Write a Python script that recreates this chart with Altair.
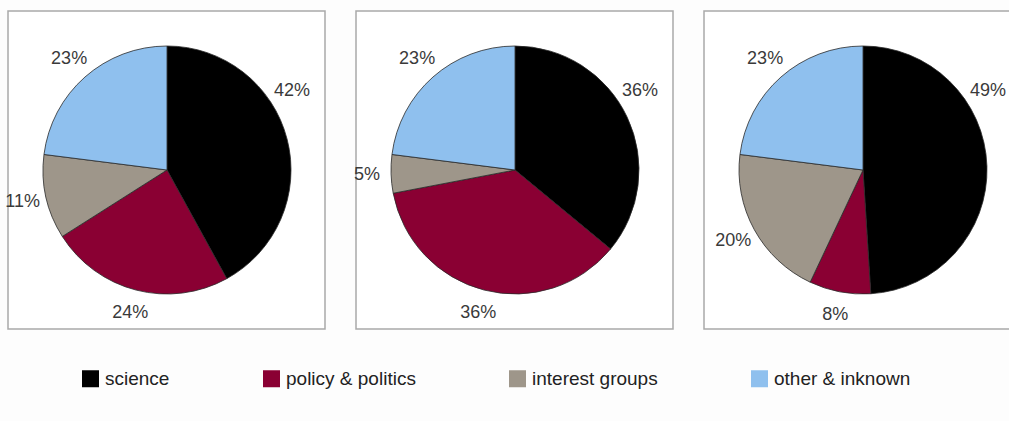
import altair as alt
import pandas as pd

categories = ["science", "policy & politics", "interest groups", "other & inknown"]
colors = ["#000000", "#8a0033", "#9e968a", "#8fc0ee"]
pie1 = [42, 24, 11, 23]
pie2 = [36, 36, 5, 23]
pie3 = [49, 8, 20, 23]
series = [pie1, pie2, pie3]

rows = []
for p, vals in enumerate(series):
    for i, (c, v) in enumerate(zip(categories, vals)):
        rows.append({"panel": p, "idx": i, "category": c, "value": v})
df = pd.DataFrame(rows)

# layout (pixels)
panel_left = [8, 356, 704]
panel_w = 317
panel_top, panel_bottom = 11, 329
centers_x = [167, 515, 863]
center_y = 170
R = 124
label_r = 148

color_scale = alt.Scale(domain=categories, range=colors)
theta_scale = alt.Scale(domain=[0, 100])

layers = []
for p in range(3):
    layers.append(
        alt.Chart(alt.Data(values=[{}])).mark_rect(
            fill="white", stroke="#a9a9a9", strokeWidth=1.5
        ).encode(
            x=alt.value(panel_left[p]), x2=alt.value(panel_left[p] + panel_w),
            y=alt.value(panel_top), y2=alt.value(panel_bottom),
        )
    )

for p in range(3):
    base = alt.Chart(df).transform_filter(alt.datum.panel == p)
    arc = base.mark_arc(radius=R, stroke="#2a2a2a", strokeWidth=0.8).encode(
        theta=alt.Theta("value:Q", stack=True, scale=theta_scale),
        color=alt.Color("category:N", scale=color_scale, sort=categories,
                        legend=alt.Legend(title=None) if p == 0 else None),
        order=alt.Order("idx:Q"),
        x=alt.value(centers_x[p]),
        y=alt.value(center_y),
    )
    # label placed at slice middle; big right-hand slices keep their label in the upper right
    txt = base.transform_window(
        cum="sum(value)", sort=[alt.SortField("idx")], frame=[None, 0]
    ).transform_calculate(
        mid="datum.cum - datum.value / 2",
        pos="datum.mid < 50 ? min(datum.mid, 16) : datum.mid",
        label="datum.value + '%'",
    ).mark_text(
        radius=label_r, fontSize=18, font="Liberation Sans", color="#3a3a3a"
    ).encode(
        theta=alt.Theta("pos:Q", stack=None, scale=theta_scale),
        text="label:N",
        x=alt.value(centers_x[p]),
        y=alt.value(center_y),
    )
    layers += [arc, txt]

chart = alt.layer(*layers).properties(
    width=1009, height=421, padding=0,
    autosize=alt.AutoSizeParams(type="none"),
    background="#fdfdfd",
).configure_view(stroke=None).configure_legend(
    orient="none", legendX=81, legendY=369, direction="horizontal", columns=4,
    symbolType="square", symbolSize=289, symbolStrokeWidth=0,
    labelFontSize=19, labelFont="Liberation Sans", labelColor="#222222",
    labelOffset=5, columnPadding=92, gridAlign="each",
)

chart.save("out.html", embed_options={"renderer": "svg", "actions": False})
